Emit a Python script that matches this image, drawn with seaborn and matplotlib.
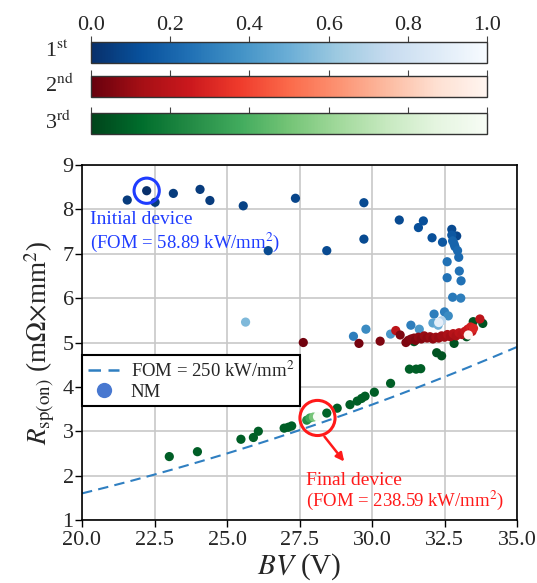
import numpy as np
import pandas as pd
import matplotlib
matplotlib.use("Agg")
import matplotlib.pyplot as plt
import seaborn as sns
from matplotlib.lines import Line2D
from matplotlib.cm import ScalarMappable
from matplotlib.colors import Normalize

# ---------------- data ----------------
bv_1st = [22.23, 21.56, 22.52, 23.15, 24.07, 24.41, 25.56, 27.36, 26.42, 28.44,
          29.72, 29.72, 30.94, 31.77, 31.60, 32.07, 32.43, 32.75, 32.92, 32.75,
          32.78, 32.83, 32.86, 32.95, 32.99, 32.59, 33.01, 32.59, 33.07, 32.78,
          33.06, 25.64, 29.36, 29.79, 30.64, 31.34, 32.14, 32.50, 32.63, 32.10,
          32.28, 32.40, 31.63, 32.30]
r_1st = [8.42, 8.21, 8.16, 8.36, 8.45, 8.20, 8.08, 8.25, 7.07, 7.07,
         8.15, 7.33, 7.76, 7.74, 7.59, 7.36, 7.26, 7.55, 7.40, 7.42,
         7.29, 7.22, 7.16, 7.07, 6.92, 6.82, 6.61, 6.46, 6.39, 6.02,
         6.00, 5.46, 5.14, 5.30, 5.19, 5.39, 5.64, 5.69, 5.60, 5.44,
         5.39, 5.49, 5.30, 5.45]
c_1st = [0.00, 0.05, 0.05, 0.05, 0.05, 0.05, 0.07, 0.08, 0.10, 0.10,
         0.10, 0.10, 0.10, 0.12, 0.12, 0.12, 0.15, 0.10, 0.08, 0.15,
         0.20, 0.20, 0.20, 0.22, 0.22, 0.25, 0.25, 0.25, 0.25, 0.28,
         0.30, 0.55, 0.30, 0.35, 0.40, 0.30, 0.30, 0.30, 0.35, 0.45,
         0.50, 0.70, 0.40, 0.90]

bv_2nd = [27.63, 29.55, 30.28, 30.82, 30.97, 31.17, 31.25, 31.35, 31.45, 31.50,
          31.60, 31.70, 31.80, 31.90, 32.00, 32.10, 32.20, 32.30, 32.40, 32.50,
          32.60, 32.70, 32.80, 32.90, 33.00, 33.10, 33.20, 33.30, 33.40, 33.45,
          33.50, 33.72, 33.32]
r_2nd = [5.00, 4.98, 5.03, 5.27, 5.17, 5.00, 5.05, 5.08, 5.10, 5.05,
         5.12, 5.08, 5.15, 5.10, 5.13, 5.08, 5.12, 5.10, 5.15, 5.12,
         5.18, 5.13, 5.20, 5.15, 5.22, 5.18, 5.25, 5.30, 5.35, 5.25,
         5.32, 5.53, 5.17]
c_2nd = [0.02, 0.03, 0.05, 0.20, 0.05, 0.05, 0.05, 0.06, 0.07, 0.05,
         0.08, 0.06, 0.10, 0.08, 0.10, 0.08, 0.12, 0.10, 0.12, 0.12,
         0.15, 0.12, 0.18, 0.15, 0.20, 0.18, 0.22, 0.25, 0.28, 0.22,
         0.30, 0.20, 1.00]

bv_3rd = [23.01, 23.98, 25.48, 25.91, 26.08, 26.97, 27.11, 27.23, 27.75, 27.86,
          27.98, 28.12, 28.44, 28.80, 29.24, 29.49, 29.64, 29.76, 30.08, 30.64,
          31.29, 31.52, 31.68, 32.23, 32.40, 32.83, 31.45, 33.26, 33.49, 33.82]
r_3rd = [2.43, 2.54, 2.82, 2.86, 3.00, 3.07, 3.09, 3.12, 3.25, 3.30,
         3.32, 3.33, 3.41, 3.52, 3.60, 3.68, 3.74, 3.79, 3.88, 4.08,
         4.40, 4.40, 4.41, 4.77, 4.70, 4.98, 5.02, 5.13, 5.47, 5.43]
c_3rd = [0.08, 0.08, 0.08, 0.08, 0.08, 0.08, 0.08, 0.08, 0.25, 0.35,
         0.50, 1.00, 0.10, 0.08, 0.08, 0.08, 0.08, 0.08, 0.08, 0.08,
         0.08, 0.08, 0.08, 0.05, 0.05, 0.05, 0.05, 0.05, 0.05, 0.05]

fom_ref = 250.0
initial_device = (22.23, 8.42)
final_device = (28.12, 3.30)
cbar_ticks = [0.0, 0.2, 0.4, 0.6, 0.8, 1.0]
cbar_names = ["1$^{\\mathrm{st}}$", "2$^{\\mathrm{nd}}$", "3$^{\\mathrm{rd}}$"]
cbar_cmaps = ["Blues_r", "Reds_r", "Greens_r"]
x_ticks = [20.0, 22.5, 25.0, 27.5, 30.0, 32.5, 35.0]
y_ticks = [1, 2, 3, 4, 5, 6, 7, 8, 9]

# ---------------- style ----------------
sns.set_theme(style="whitegrid")
plt.rcParams["font.family"] = ["Liberation Serif", "DejaVu Serif"]
plt.rcParams["mathtext.fontset"] = "stix"

fig = plt.figure(figsize=(5.37, 5.83), dpi=100)
ax = fig.add_axes([0.1527, 0.108, 0.8101, 0.609])

# FOM reference curve
bv_line = np.linspace(20, 35, 200)
sns.lineplot(x=bv_line, y=bv_line ** 2 / fom_ref, ax=ax, color="#2f7fc1",
             lw=1.5, ls=(0, (5, 3)), zorder=2)

for bvs, rs, cs, cm in [(bv_1st, r_1st, c_1st, "Blues_r"),
                        (bv_3rd, r_3rd, c_3rd, "Greens_r"),
                        (bv_2nd, r_2nd, c_2nd, "Reds_r")]:
    df = pd.DataFrame({"bv": bvs, "r": rs, "c": cs})
    sns.scatterplot(data=df, x="bv", y="r", hue="c", palette=cm, hue_norm=(0, 1),
                    s=44, edgecolor="none", legend=False, ax=ax, zorder=3)

# highlight circles
ax.scatter([initial_device[0]], [initial_device[1]], s=330, facecolors="none",
           edgecolors="#1f3cff", linewidths=2.2, zorder=4)
ax.scatter([final_device[0]], [final_device[1]], s=640, facecolors="none",
           edgecolors="#ff1a1a", linewidths=2.2, zorder=4)

ax.text(20.28, 7.78, "Initial device", color="#1f3cff", fontsize=14,
        va="center", ha="left")
ax.text(20.28, 7.25, "(FOM = 58.89 kW/mm$^2$)", color="#1f3cff", fontsize=13.5,
        va="center", ha="left")
ax.annotate("", xy=(29.1, 2.27), xytext=(28.3, 2.93),
            arrowprops=dict(arrowstyle="-|>", color="#ff1a1a", lw=1.8,
                            mutation_scale=12))
ax.text(27.72, 1.9, "Final device", color="#ff1a1a", fontsize=14,
        va="center", ha="left")
ax.text(27.72, 1.44, "(FOM = 238.59 kW/mm$^2$)", color="#ff1a1a", fontsize=13.5,
        va="center", ha="left")

ax.set_xlim(20, 35)
ax.set_ylim(1, 9)
ax.set_xticks(x_ticks)
ax.set_xticklabels([f"{t:.1f}" for t in x_ticks])
ax.set_yticks(y_ticks)
ax.set_yticklabels([str(t) for t in y_ticks])
ax.tick_params(axis="both", labelsize=16, direction="out", length=5, width=1,
               color="black", left=True, bottom=True, pad=1)
ax.tick_params(axis="x", pad=3)
ax.grid(True, color="#c8c8c8", lw=1.2)
for sp in ax.spines.values():
    sp.set_color("black")
    sp.set_linewidth(1.2)
ax.set_xlabel("$BV$ (V)", fontsize=21, labelpad=1)
ax.set_ylabel("$R_{\\mathrm{sp(on)}}$ (m$\\Omega$$\\times$mm$^2$)", fontsize=19.5,
              labelpad=4)

handles = [Line2D([0], [0], color="#2f7fc1", lw=1.8, ls=(0, (5, 3))),
           Line2D([0], [0], marker="o", color="none", markerfacecolor="#4878d0",
                  markeredgecolor="none", markersize=11)]
leg = ax.legend(handles, ["FOM = 250 kW/mm$^2$", "NM"], loc="upper left",
                bbox_to_anchor=(0.0, 0.465), fontsize=13.5, frameon=True,
                fancybox=False, framealpha=1, borderaxespad=0.0,
                borderpad=0.3, handlelength=1.7, handletextpad=0.6,
                labelspacing=0.15)
leg.get_frame().set_edgecolor("black")
leg.get_frame().set_linewidth(1.5)

# colour bars
cb_bottoms = [0.892, 0.8336, 0.770]
for i, (bot, cmn, name) in enumerate(zip(cb_bottoms, cbar_cmaps, cbar_names)):
    cax = fig.add_axes([0.1695, bot, 0.7374, 0.036])
    sm = ScalarMappable(norm=Normalize(0, 1), cmap=cmn)
    cb = fig.colorbar(sm, cax=cax, orientation="horizontal")
    cax.xaxis.set_ticks_position("top")
    cb.set_ticks(cbar_ticks)
    cax.tick_params(axis="x", length=4, width=0.8, color="#444444",
                    labelsize=16, pad=1, top=True, bottom=False,
                    labeltop=(i == 0), labelbottom=False)
    if i == 0:
        cax.set_xticklabels([f"{t:.1f}" for t in cbar_ticks])
    cb.outline.set_edgecolor("#333333")
    cb.outline.set_linewidth(1.0)
    fig.text(0.083, bot + 0.02, name, fontsize=16, ha="left", va="center")

fig.savefig("out.png", dpi=100)
